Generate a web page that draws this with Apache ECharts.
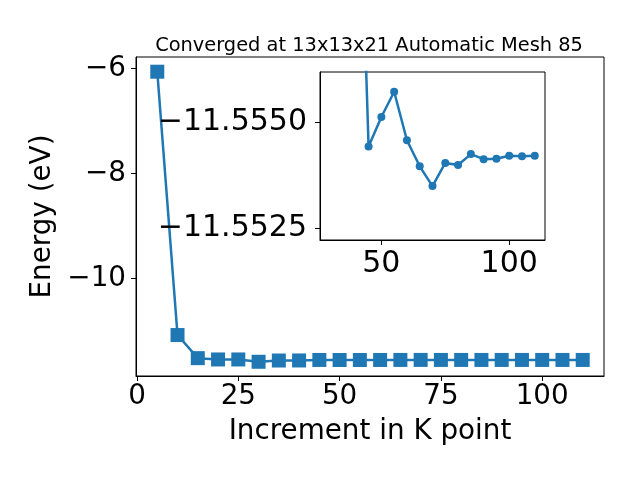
<!DOCTYPE html>
<html>
<head>
<meta charset="utf-8">
<script src="https://cdn.jsdelivr.net/npm/echarts@6/dist/echarts.min.js"></script>
<style>html,body{margin:0;padding:0;background:#fff;}#c{width:640px;height:480px;}</style>
</head>
<body>
<div id="c"></div>
<script>
// Data
const kPoints = [5, 10, 15, 20, 25, 30, 35, 40, 45, 50, 55, 60, 65, 70, 75, 80, 85, 90, 95, 100, 105, 110];
const energy = [-6.065, -11.08, -11.52, -11.545, -11.545, -11.589, -11.565, -11.564,
  -11.55443, -11.55513, -11.55573, -11.55458, -11.55396, -11.55349, -11.55404, -11.55399,
  -11.55425, -11.55413, -11.55414, -11.55421, -11.5542, -11.55421];
const insetStart = 30; // inset plots from this k point onward
const mainXTicks = [0, 25, 50, 75, 100];
const mainYTicks = [-10, -8, -6];
const insetXTicks = [50, 100];
const insetYTicks = [-11.5550, -11.5525];
const titleText = 'Converged at 13x13x21 Automatic Mesh 85';
const xTitle = 'Increment in K point';
const yTitle = 'Energy (eV)';

const FONT = 'DejaVu Sans';
const BLUE = '#1f77b4';
const minus = s => String(s).replace('-', '\u2212');

const mainData = kPoints.map((k, i) => [k, energy[i]]);
const insetData = kPoints.map((k, i) => [k, energy[i]]).filter(d => d[0] >= insetStart);

const chart = echarts.init(document.getElementById('c'), null, {renderer: 'canvas'});

const axisLine = {show: true, onZero: false, lineStyle: {color: '#000', width: 1}};
const MAIN_TICK = 27.8, INSET_TICK = 30, LABEL = 27.8;

chart.setOption({
  animation: false,
  backgroundColor: '#fff',
  title: {
    text: titleText, left: 364, top: 31, textAlign: 'center',
    textStyle: {fontFamily: FONT, fontSize: 19.4, fontWeight: 'normal', color: '#000'}
  },
  grid: [
    {left: 136, top: 57, width: 468, height: 319, show: true, borderColor: '#000', borderWidth: 1, backgroundColor: '#fff'},
    {left: 320, top: 72, width: 225, height: 168, show: true, borderColor: '#000', borderWidth: 1, backgroundColor: '#fff', z: 5}
  ],
  xAxis: [
    {
      type: 'value', gridIndex: 0, min: -0.25, max: 115.25, axisLine, splitLine: {show: false},
      name: xTitle, nameLocation: 'middle', nameGap: 42,
      nameTextStyle: {fontFamily: FONT, fontSize: LABEL, color: '#000'},
      axisTick: {show: true, length: 5, customValues: mainXTicks, lineStyle: {color: '#000'}},
      axisLabel: {customValues: mainXTicks, fontFamily: FONT, fontSize: MAIN_TICK, color: '#000', margin: 7, formatter: v => minus(v)}
    },
    {
      type: 'value', gridIndex: 1, min: 26, max: 114, z: 6, axisLine, splitLine: {show: false},
      axisTick: {show: true, length: 5, customValues: insetXTicks, lineStyle: {color: '#000'}},
      axisLabel: {customValues: insetXTicks, fontFamily: FONT, fontSize: INSET_TICK, color: '#000', margin: 9, formatter: v => minus(v)}
    }
  ],
  yAxis: [
    {
      type: 'value', gridIndex: 0, min: -11.86, max: -5.785, axisLine, splitLine: {show: false},
      name: yTitle, nameLocation: 'middle', nameGap: 77, nameRotate: 90,
      nameTextStyle: {fontFamily: FONT, fontSize: LABEL, color: '#000'},
      axisTick: {show: true, length: 5, customValues: mainYTicks, lineStyle: {color: '#000'}},
      axisLabel: {customValues: mainYTicks, fontFamily: FONT, fontSize: MAIN_TICK, color: '#000', margin: 10,
        padding: [4, 0, 0, 0], formatter: v => minus(v)}
    },
    {
      type: 'value', gridIndex: 1, inverse: true, min: -11.5562, max: -11.55221, z: 6, axisLine, splitLine: {show: false},
      axisTick: {show: true, length: 5, customValues: insetYTicks, lineStyle: {color: '#000'}},
      axisLabel: {customValues: insetYTicks, fontFamily: FONT, fontSize: INSET_TICK, color: '#000', margin: 13,
        padding: [4, 0, 0, 0], formatter: v => minus(Number(v).toFixed(4))}
    }
  ],
  series: [
    {
      type: 'line', xAxisIndex: 0, yAxisIndex: 0, data: mainData,
      symbol: 'rect', symbolSize: 14, lineStyle: {color: BLUE, width: 2.5},
      itemStyle: {color: BLUE}, z: 3
    },
    {
      type: 'line', xAxisIndex: 1, yAxisIndex: 1, data: insetData, clip: true,
      symbol: 'circle', symbolSize: 8, lineStyle: {color: BLUE, width: 2.5},
      itemStyle: {color: BLUE}, z: 7
    }
  ]
});
</script>
</body>
</html>
